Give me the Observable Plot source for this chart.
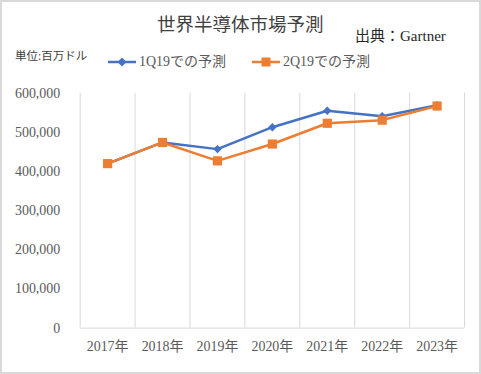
<!DOCTYPE html>
<html><head><meta charset="utf-8">
<script src="https://cdn.jsdelivr.net/npm/d3@7"></script>
<script src="https://cdn.jsdelivr.net/npm/@observablehq/plot@0.6"></script>
<style>
html,body{margin:0;padding:0;background:#fff;}
#wrap{position:relative;width:481px;height:374px;box-sizing:border-box;border:2px solid #d9d9d9;overflow:hidden;}
#chart{position:absolute;left:-2px;top:-2px;}
.t{position:absolute;white-space:nowrap;font-family:"Liberation Serif","Noto Sans CJK JP",serif;line-height:1;}
</style></head>
<body><div id="wrap"><div id="chart"></div>
<div class="t" style="left:155px;top:14px;font-size:18.5px;color:#404040;">世界半導体市場予測</div>
<div class="t" style="left:353px;top:27px;font-size:15px;color:#262626;">出典：Gartner</div>
<div class="t" style="left:13px;top:49px;font-size:11.5px;color:#404040;">単位:百万ドル</div>
<div id="legend"></div>
</div>
<script>
const years = [2017, 2018, 2019, 2020, 2021, 2022, 2023];
const q1 = [420000, 474000, 457000, 513000, 555000, 541000, 569000];
const q2 = [420000, 474000, 427000, 470000, 523000, 531000, 567000];
const seriesNames = ["1Q19での予測", "2Q19での予測"];
const colors = ["#4472C4", "#ED7D31"];
const yTicks = [0, 100000, 200000, 300000, 400000, 500000, 600000];

const data = [];
years.forEach((y, i) => {
  data.push({year: y, value: q1[i], s: seriesNames[0]});
  data.push({year: y, value: q2[i], s: seriesNames[1]});
});
const bounds = d3.range(years[0] - 0.5, years[years.length - 1] + 1, 1);

const plot = Plot.plot({
  width: 481, height: 374,
  marginLeft: 80, marginRight: 15, marginTop: 93, marginBottom: 45,
  style: {fontFamily: '"Liberation Serif","Noto Sans CJK JP",serif', fontSize: "14px", color: "#595959", background: "transparent"},
  x: {domain: [years[0] - 0.5, years[years.length - 1] + 0.5], axis: null},
  y: {domain: [0, 600000], axis: null},
  marks: [
    Plot.ruleX(bounds, {x: d => d, y1: 0, y2: 600000, stroke: "#d9d9d9", strokeWidth: 1}),
    Plot.ruleY([0], {stroke: "#d9d9d9", strokeWidth: 1}),
    Plot.axisY(yTicks, {label: null, tickSize: 0, tickPadding: 20, tickFormat: d => d3.format(",")(d), fontSize: 14, fill: "#595959"}),
    Plot.axisX(years, {label: null, tickSize: 0, tickPadding: 13, tickFormat: d => `${d}年`, fontSize: 14, fill: "#595959", letterSpacing: "1.5px"}),
    Plot.line(data.filter(d => d.s === seriesNames[0]), {x: "year", y: "value", stroke: colors[0], strokeWidth: 2.5}),
    Plot.dot(data.filter(d => d.s === seriesNames[0]), {x: "year", y: "value", symbol: "square", rotate: 45, r: 3.4, fill: colors[0]}),
    Plot.line(data.filter(d => d.s === seriesNames[1]), {x: "year", y: "value", stroke: colors[1], strokeWidth: 2.5}),
    Plot.dot(data.filter(d => d.s === seriesNames[1]), {x: "year", y: "value", symbol: "square", r: 5.2, fill: colors[1]})
  ]
});
document.getElementById("chart").appendChild(plot);

// legend
const lg = document.getElementById("legend");
const lx = [106, 250];
seriesNames.forEach((n, i) => {
  const sym = i === 0
    ? `<path d="M14,2.5 L18.5,7 L14,11.5 L9.5,7 Z" fill="${colors[0]}"/>`
    : `<rect x="9.5" y="2.5" width="9" height="9" fill="${colors[1]}"/>`;
  lg.insertAdjacentHTML("beforeend",
    `<svg style="position:absolute;left:${lx[i]}px;top:53px" width="30" height="14"><line x1="0" x2="28" y1="7" y2="7" stroke="${colors[i]}" stroke-width="2.5"/>${sym}</svg>` +
    `<div class="t" style="left:${lx[i] + 31}px;top:53px;font-size:14px;color:#595959;">${n}</div>`);
});
</script></body></html>
